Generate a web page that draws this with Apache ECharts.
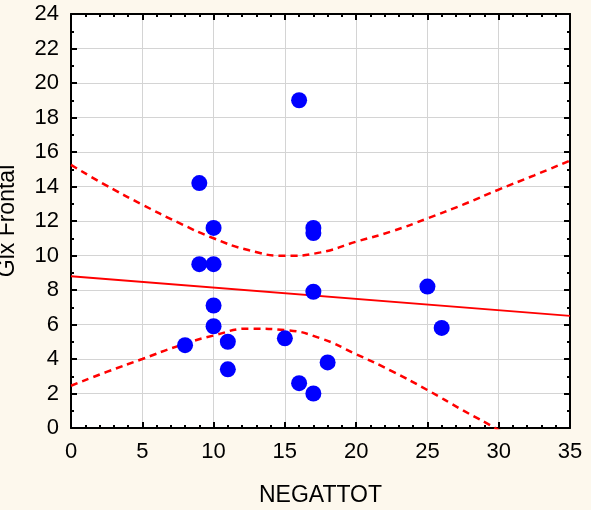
<!DOCTYPE html>
<html>
<head>
<meta charset="utf-8">
<script src="https://cdn.jsdelivr.net/npm/echarts@6/dist/echarts.min.js"></script>
<style>
html,body{margin:0;padding:0;background:#fdf8ed;}
#chart{width:591px;height:510px;}
</style>
</head>
<body>
<div id="chart"></div>
<script>
// Scatter points (NEGATTOT, Glx Frontal)
const pointX = [8, 9, 9, 10, 10, 10, 10, 11, 11, 15, 16, 16, 17, 17, 17, 17, 18, 25, 26];
const pointY = [4.8, 14.2, 9.5, 11.6, 9.5, 7.1, 5.9, 5.0, 3.4, 5.2, 19.0, 2.6, 11.6, 11.3, 7.9, 2.0, 3.8, 8.2, 5.8];

// Regression line end points
const fitX = [0, 35];
const fitY = [8.8, 6.5];

// Confidence band
const bandX = [0, 2.5, 5, 7.5, 10, 12.5, 15, 17.5, 20, 22.5, 25, 27.5, 30, 32.5, 35];
const upperY = [15.25, 14.05, 12.95, 11.92, 11.0, 10.3, 9.98, 10.18, 10.8, 11.4, 12.15, 12.95, 13.82, 14.65, 15.5];
const lowerY = [2.45, 3.25, 4.0, 4.75, 5.36, 5.76, 5.68, 5.2, 4.28, 3.3, 2.2, 1.02, -0.12, -1.4, -2.7];

const xTicks = { min: 0, max: 35, interval: 5 };
const yTicks = { min: 0, max: 24, interval: 2 };

const zip = (a, b) => a.map((v, i) => [v, b[i]]);

const font = 'Liberation Sans, Arial, sans-serif';
const axisLine = { show: true, onZero: false, lineStyle: { color: '#000', width: 2 } };
const tick = { show: true, inside: true, length: 6, lineStyle: { color: '#000', width: 2 } };
const minor = (n) => ({ show: true, splitNumber: n, length: 3, lineStyle: { color: '#000', width: 2 } });

const chart = echarts.init(document.getElementById('chart'));
chart.setOption({
  backgroundColor: '#fdf8ed',
  animation: false,
  grid: { left: 71, right: 21, top: 14, bottom: 82, show: true, backgroundColor: '#fff', borderWidth: 0,
          containLabel: false, outerBoundsMode: 'none' },
  xAxis: [{
    type: 'value', min: xTicks.min, max: xTicks.max, interval: xTicks.interval,
    name: 'NEGATTOT', nameLocation: 'middle', nameGap: 56,
    nameTextStyle: { fontFamily: font, fontSize: 23, color: '#000' },
    axisLine: axisLine, axisTick: tick, minorTick: minor(5),
    axisLabel: { fontFamily: font, fontSize: 22, color: '#000', margin: 13 },
    splitLine: { show: true, lineStyle: { color: '#d4d4d4', width: 1 } }
  }, {
    type: 'value', position: 'top', min: xTicks.min, max: xTicks.max, interval: xTicks.interval,
    axisLine: axisLine, axisTick: tick, minorTick: minor(5),
    axisLabel: { show: false }, splitLine: { show: false }
  }],
  yAxis: [{
    type: 'value', min: yTicks.min, max: yTicks.max, interval: yTicks.interval,
    name: 'Glx Frontal', nameLocation: 'middle', nameGap: 52,
    nameTextStyle: { fontFamily: font, fontSize: 23, color: '#000' },
    axisLine: axisLine, axisTick: tick, minorTick: minor(2),
    axisLabel: { fontFamily: font, fontSize: 22, color: '#000', margin: 12 },
    splitLine: { show: true, lineStyle: { color: '#d4d4d4', width: 1 } }
  }, {
    type: 'value', position: 'right', min: yTicks.min, max: yTicks.max, interval: yTicks.interval,
    axisLine: axisLine, axisTick: tick, minorTick: minor(2),
    axisLabel: { show: false }, splitLine: { show: false }
  }],
  series: [
    {
      type: 'line', data: zip(bandX, upperY), smooth: true, symbol: 'none', clip: true,
      lineStyle: { color: '#ff0000', width: 2.5, type: [7, 5] }, z: 3
    },
    {
      type: 'line', data: zip(bandX, lowerY), smooth: true, symbol: 'none', clip: true,
      lineStyle: { color: '#ff0000', width: 2.5, type: [7, 5] }, z: 3
    },
    {
      type: 'line', data: zip(fitX, fitY), symbol: 'none', clip: true,
      lineStyle: { color: '#ff0000', width: 2 }, z: 3
    },
    {
      type: 'scatter', data: zip(pointX, pointY), symbol: 'circle', symbolSize: 16,
      itemStyle: { color: '#0000ff', opacity: 1 }, z: 4
    }
  ]
});
</script>
</body>
</html>
